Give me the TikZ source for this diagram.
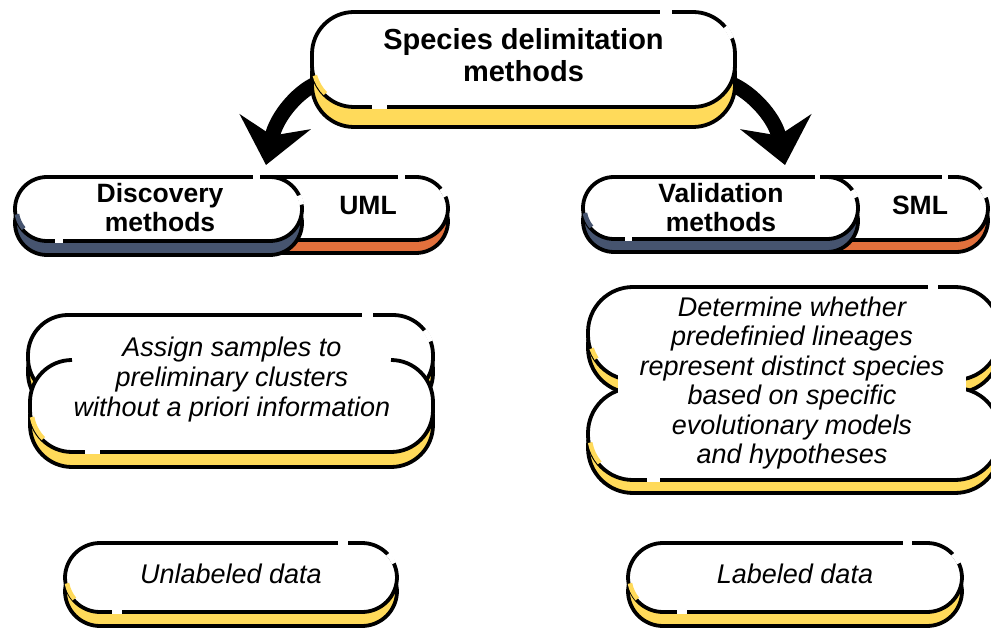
\documentclass[tikz,border=0pt]{standalone}
\usepackage{fontspec}
\setmainfont{Liberation Sans}
\usetikzlibrary{arrows.meta}
\pgfdeclarelayer{bg}
\pgfsetlayers{bg,main}
\definecolor{ylw}{HTML}{FFDA5A}
\definecolor{navy}{HTML}{46546F}
\definecolor{orng}{HTML}{E2703C}
\tikzset{
  edge/.style={line width=3.8pt, draw=black, line join=round},
  ttl/.style={font=\fontsize{29}{32}\selectfont\bfseries, align=center, inner sep=0pt},
  lbl/.style={font=\fontsize{26.5}{29}\selectfont\bfseries, align=center, inner sep=0pt},
  itx/.style={font=\fontsize{27}{30}\selectfont\itshape, align=center, inner sep=0pt},
  itxb/.style={font=\fontsize{27}{29.4}\selectfont\itshape, align=center, inner sep=0pt},
  bigarrow/.style={line width=15pt, -{Stealth[length=44pt, width=72pt, inset=14pt]}},
}
\newcommand\shadowpill[6]{\draw[edge, fill=#6, rounded corners=#5pt] (#1,#2) rectangle (#3,#4);}
\newcommand\bodypill[5]{\draw[edge, fill=white, rounded corners=#5pt] (#1,#2) rectangle (#3,#4);}
% body without its top straight edge
\newcommand\opentop[5]{%
  \fill[white, rounded corners=#5pt] (#1,#2) rectangle (#3,#4);
  \draw[edge] (#1+#5,#2) arc[start angle=-90, end angle=-180, radius=#5] -- (#1,#4-#5)
     arc[start angle=180, end angle=90, radius=#5] -- (#3-#5,#4)
     arc[start angle=90, end angle=0, radius=#5] -- (#3,#2+#5)
     arc[start angle=0, end angle=-90, radius=#5];}
% body without its bottom straight edge
\newcommand\openbottom[5]{%
  \fill[white, rounded corners=#5pt] (#1,#2) rectangle (#3,#4);
  \draw[edge] (#1+#5,#4) arc[start angle=90, end angle=180, radius=#5] -- (#1,#2+#5)
     arc[start angle=180, end angle=270, radius=#5] -- (#3-#5,#2)
     arc[start angle=270, end angle=360, radius=#5] -- (#3,#4-#5)
     arc[start angle=0, end angle=90, radius=#5];}
\newcommand\gapl[4][white]{\draw[line width=4.8pt, draw=#1] (#2,#4) -- (#3,#4);}
\newcommand\gapa[6][white]{\draw[line width=4.6pt, draw=#1] (#2,#3) ++(#5:#4) arc[start angle=#5, end angle=#6, radius=#4];}
\begin{document}
\begin{tikzpicture}[x=1pt, y=-1pt]
\useasboundingbox (0,0) rectangle (991,628);
\clip (0,0) rectangle (991,628);

% top box
\shadowpill{312}{32}{735}{127}{42}{ylw}
\node[edge, fill=white, rounded corners=42pt, minimum width=423pt, minimum height=95pt, inner sep=0pt] (top) at (523.5,59.5) {};
\gapl{660}{672}{12}
\gapa{693}{54}{42}{-40}{-22}
\gapl{372}{387}{107}
\gapa[ylw]{354}{65}{40.5}{165}{135}
\node[ttl] (title) at (523.5,55.5) {Species delimitation\\methods};

% arrows
\coordinate (dtip) at (266,165);
\coordinate (vtip) at (785,165);
\begin{pgfonlayer}{bg}
\fill[white] (0,0) rectangle (991,628);
\draw[bigarrow] ([xshift=12pt,yshift=-22pt]top.west) .. controls (300,88) and (276.4,116) .. (dtip);
\draw[bigarrow] ([xshift=-12pt,yshift=-22pt]top.east) .. controls (748,88) and (774.6,116) .. (vtip);
\end{pgfonlayer}

% discovery row
\shadowpill{150}{190}{448}{253}{32}{orng}
\bodypill{150}{177}{448}{240}{32}
\shadowpill{15}{191}{302}{255}{32}{navy}
\bodypill{15}{177}{302}{241}{32}
\gapl{253}{260}{177}
\gapa{270}{209}{32}{-25}{-8}
\gapl{55}{63}{241}
\gapa[navy]{47}{209}{30.5}{170}{140}
\gapl{398}{405}{177}
\gapa{416}{208.5}{32}{-38}{-22}
\node[lbl] (disc) at (160,208) {Discovery\\methods};
\node[lbl, anchor=base] (uml) at (368,215) {UML};

% validation row
\shadowpill{720}{189}{988}{252}{32}{orng}
\bodypill{720}{177}{988}{240}{32}
\shadowpill{583}{190}{858}{252}{31}{navy}
\bodypill{583}{177}{858}{239}{31}
\gapl{815}{820}{177}
\gapa{827}{208}{31}{-35}{-20}
\gapl{625}{632}{239}
\gapa[navy]{614}{208}{29.5}{170}{140}
\gapl{942}{948}{177}
\gapa{956}{208.5}{32}{-38}{-20}
\node[lbl] (valid) at (721,208) {Validation\\methods};
\node[lbl, anchor=base] (sml) at (920,215) {SML};

% left middle box
\shadowpill{28}{330}{433}{413}{40}{ylw}
\openbottom{28}{315}{433}{398}{40}
\shadowpill{30}{375}{433}{467}{42}{ylw}
\opentop{30}{360}{433}{452}{42}
\gapl{362}{373}{315}
\gapa{393}{355}{40}{-38}{-20}
\gapl{85}{100}{452}
\gapa[ylw]{72}{410}{40.5}{170}{135}
\node[itx] (assign) at (232,380) {Assign samples to\\preliminary clusters\\without a priori information};

% right middle box
\shadowpill{588}{300}{1000}{393}{45}{ylw}
\openbottom{588}{287}{1000}{380}{45}
\shadowpill{588}{401}{1000}{493}{45}{ylw}
\opentop{588}{388}{1000}{480}{45}
\fill[white] (618,374) rectangle (966,400);
\gapl{928}{938}{287}
\gapa[ylw]{633}{335}{43.5}{162}{147}
\gapl{647}{660}{480}
\gapa[ylw]{633}{435}{43.5}{170}{140}
\node[itxb] (determ) at (792,383) {Determine whether\\predefinied lineages\\represent distinct species\\based on specific\\evolutionary models\\and hypotheses};

% bottom boxes
\shadowpill{65}{557}{397}{626}{35}{ylw}
\bodypill{65}{543}{397}{612}{35}
\gapl{338}{348}{543}
\gapa{362}{577.5}{35}{-42}{-24}
\gapl{112}{122}{612}
\gapa[ylw]{100}{577.5}{33.5}{170}{140}
\node[itx, anchor=base] (unlab) at (231,583) {Unlabeled data};

\shadowpill{628}{557}{962}{626}{35}{ylw}
\bodypill{628}{543}{962}{612}{35}
\gapl{903}{912}{543}
\gapa{927}{577.5}{35}{-42}{-24}
\gapl{677}{687}{612}
\gapa[ylw]{663}{577.5}{33.5}{170}{140}
\node[itx, anchor=base] (lab) at (795,583) {Labeled data};
\end{tikzpicture}
\end{document}
